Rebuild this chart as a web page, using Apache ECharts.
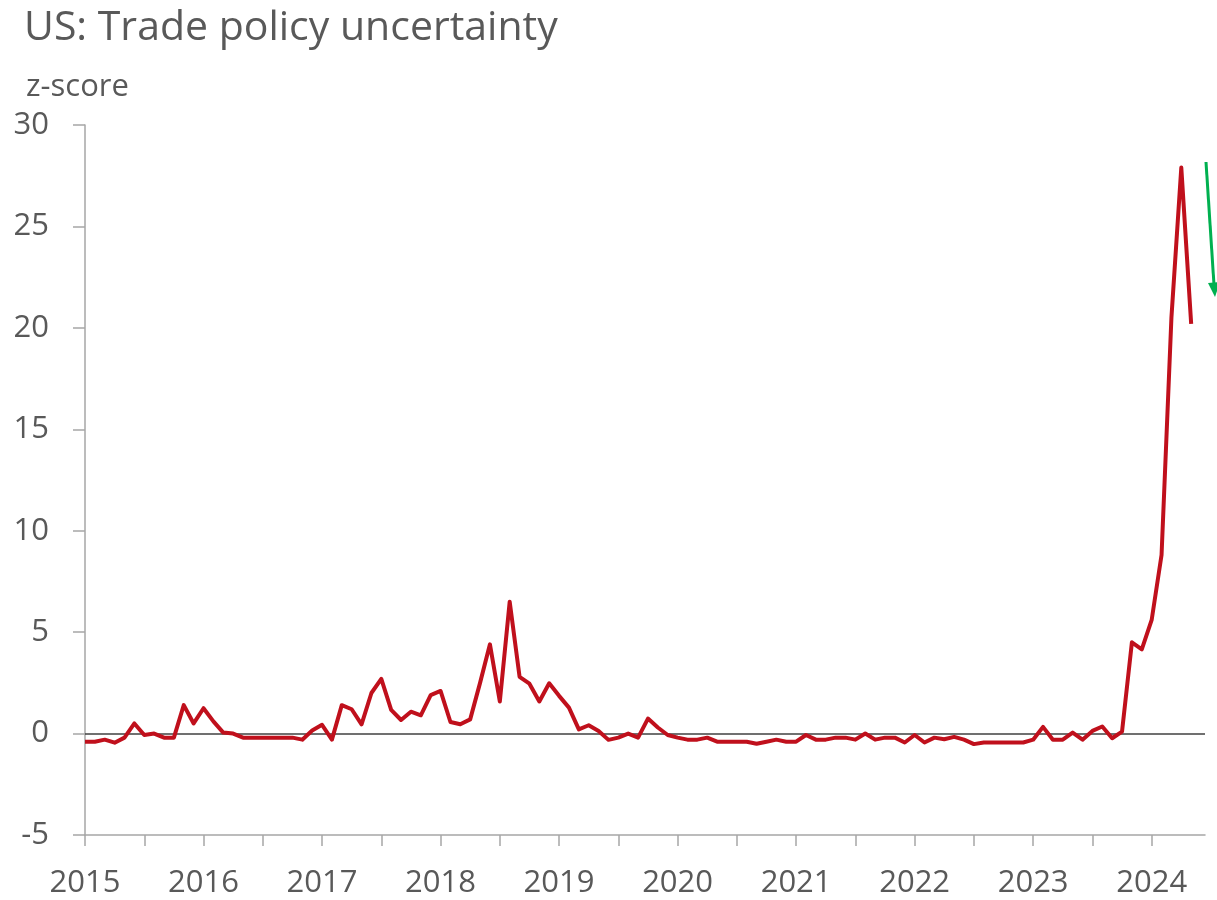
<!DOCTYPE html>
<html>
<head>
<meta charset="utf-8">
<title>US: Trade policy uncertainty</title>
<script src="https://cdn.jsdelivr.net/npm/echarts@6/dist/echarts.min.js"></script>
<style>
  html, body { margin: 0; padding: 0; background: #ffffff; }
  #chart { width: 1217px; height: 900px; }
</style>
</head>
<body>
<div id="chart"></div>
<script>
// Monthly trade policy uncertainty z-score, January 2015 onwards
const startYear = 2015;
const yearLabels = ['2015', '2016', '2017', '2018', '2019', '2020', '2021', '2022', '2023', '2024'];
const yTicks = [-5, 0, 5, 10, 15, 20, 25, 30];
const tpu = [
  -0.4, -0.4, -0.3, -0.45, -0.2, 0.5, -0.07, 0.0, -0.2, -0.2, 1.4, 0.5,      // 2015
  1.25, 0.6, 0.05, 0.0, -0.2, -0.2, -0.2, -0.2, -0.2, -0.2, -0.3, 0.15,      // 2016
  0.43, -0.3, 1.4, 1.2, 0.45, 2.0, 2.7, 1.17, 0.67, 1.08, 0.9, 1.9,          // 2017
  2.1, 0.57, 0.46, 0.7, 2.5, 4.4, 1.58, 6.5, 2.8, 2.46, 1.58, 2.48,          // 2018
  1.86, 1.28, 0.21, 0.41, 0.13, -0.31, -0.2, 0.0, -0.2, 0.74, 0.3, -0.07,    // 2019
  -0.2, -0.3, -0.3, -0.2, -0.4, -0.4, -0.4, -0.4, -0.5, -0.4, -0.3, -0.4,    // 2020
  -0.4, -0.07, -0.3, -0.3, -0.2, -0.2, -0.3, 0.0, -0.3, -0.2, -0.2, -0.44,   // 2021
  -0.07, -0.44, -0.2, -0.28, -0.16, -0.3, -0.52, -0.44, -0.44, -0.44, -0.44, -0.44, // 2022
  -0.3, 0.33, -0.3, -0.3, 0.05, -0.3, 0.13, 0.35, -0.23, 0.1, 4.5, 4.15,     // 2023
  5.6, 8.8, 20.5, 27.9, 20.2                                                 // 2024
];

const textColor = '#595959';
const fontFamily = '"Open Sans", "Noto Sans", sans-serif';

// x positions are months elapsed since January of the first year
const seriesData = tpu.map((v, i) => [i, v]);
const halfYearTicks = [];
for (let m = 0; m <= (yearLabels.length - 1) * 12; m += 6) halfYearTicks.push(m);
const yearTicks = yearLabels.map((_, k) => k * 12);

const chart = echarts.init(document.getElementById('chart'), null, { renderer: 'canvas' });

chart.setOption({
  animation: false,
  backgroundColor: '#ffffff',
  textStyle: { fontFamily: fontFamily },
  title: [
    {
      text: 'US: Trade policy uncertainty',
      left: 19, top: 3,
      textStyle: { fontFamily: fontFamily, fontSize: 41, fontWeight: 'normal', color: textColor }
    },
    {
      text: 'z-score',
      left: 21, top: 67,
      textStyle: { fontFamily: fontFamily, fontSize: 31, fontWeight: 'normal', color: textColor }
    }
  ],
  grid: { left: 85, right: 12, top: 125, bottom: 65, containLabel: false },
  xAxis: {
    type: 'value',
    min: 0,
    max: 113.4,
    interval: 6,
    splitLine: { show: false },
    axisLine: { show: true, onZero: false, lineStyle: { color: '#a6a6a6', width: 1.5 } },
    axisTick: { show: true, length: 11, customValues: halfYearTicks, lineStyle: { color: '#a6a6a6', width: 1.5 } },
    axisLabel: {
      customValues: yearTicks,
      formatter: v => String(startYear + Math.round(v / 12)),
      color: textColor, fontSize: 31, margin: 33, fontFamily: fontFamily
    }
  },
  yAxis: {
    type: 'value',
    min: yTicks[0],
    max: yTicks[yTicks.length - 1],
    interval: 5,
    splitLine: { show: false },
    axisLine: { show: true, lineStyle: { color: '#a6a6a6', width: 1.5 } },
    axisTick: { show: true, length: 12, lineStyle: { color: '#a6a6a6', width: 1.5 } },
    axisLabel: { color: textColor, fontSize: 31, margin: 36, fontFamily: fontFamily }
  },
  series: [
    {
      type: 'line',
      data: seriesData,
      showSymbol: false,
      symbol: 'none',
      lineStyle: { color: '#c0101c', width: 4, join: 'round' },
      z: 3,
      markLine: {
        silent: true,
        symbol: 'none',
        label: { show: false },
        lineStyle: { color: '#404040', width: 1.5, type: 'solid' },
        data: [{ yAxis: 0 }],
        z: 2
      }
    }
  ],
  graphic: [
    {
      // green pointer arrow at the right edge
      type: 'group',
      children: [
        { type: 'line', shape: { x1: 1206, y1: 162, x2: 1214, y2: 285 }, style: { stroke: '#00b050', lineWidth: 3 } },
        { type: 'polygon', shape: { points: [[1208, 283], [1220, 282], [1215, 297]] }, style: { fill: '#00b050' } }
      ]
    }
  ]
});
</script>
</body>
</html>
